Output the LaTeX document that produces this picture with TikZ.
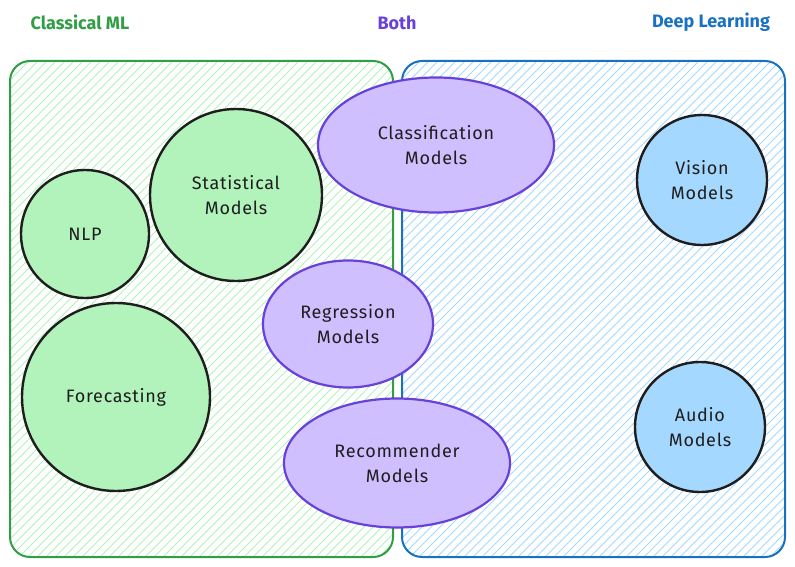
\documentclass[tikz,border=0pt]{standalone}
\usepackage{fontspec}
\setmainfont{Fira Sans}
\newfontfamily\labelfont[LetterSpace=4]{Fira Sans}
\usetikzlibrary{shapes.geometric}
\definecolor{mlgreen}{HTML}{2F9E44}
\definecolor{mlgreenfill}{HTML}{B2F2BB}
\definecolor{dlblue}{HTML}{1971C2}
\definecolor{dlbluefill}{HTML}{A5D8FF}
\definecolor{bothpurple}{HTML}{6741D9}
\definecolor{bothfill}{HTML}{D0BFFF}
\definecolor{inkc}{HTML}{1E1E1E}
\tikzset{
  heading/.style={font=\bfseries\fontsize{18}{20}\selectfont, anchor=center},
  labeltext/.style={font=\labelfont\fontsize{18}{25}\selectfont, text=inkc, align=center},
  mlcircle/.style={circle, draw=inkc, line width=2.4pt, fill=mlgreenfill, labeltext, inner sep=0pt},
  dlcircle/.style={circle, draw=inkc, line width=2.4pt, fill=dlbluefill, labeltext, inner sep=0pt},
  bothellipse/.style={ellipse, draw=bothpurple, line width=2.2pt, fill=bothfill, labeltext, inner sep=0pt},
  region/.style={rounded corners=20pt, line width=2pt},
}
\begin{document}
\begin{tikzpicture}[x=1pt,y=-1pt]
\useasboundingbox (0,0) rectangle (795,567);

% headings
\node[heading, text=mlgreen] (hml) at (80,22) {Classical ML};
\node[heading, text=bothpurple] (hboth) at (397,23) {Both};
\node[heading, text=dlblue] (hdl) at (711,22) {Deep Learning};

% hatched region: classical ML
\begin{scope}
  \clip[rounded corners=20pt] (10,61) rectangle (393,557);
  \foreach \k in {-600,-591,...,400}
    \draw[mlgreenfill, line width=1pt] (\k,600) -- ++(620,-620);
\end{scope}
\draw[region, draw=mlgreen] (10,61) rectangle (393,557);

% hatched region: deep learning
\begin{scope}
  \clip[rounded corners=20pt] (402,61) rectangle (785,557);
  \foreach \k in {-200,-191,...,800}
    \draw[dlbluefill, line width=1pt] (\k,600) -- ++(620,-620);
\end{scope}
\draw[region, draw=dlblue] (402,61) rectangle (785,557);

% classical ML topics
\node[mlcircle, minimum size=128pt] (nlp) at (85,234) {NLP};
\node[mlcircle, minimum size=172pt] (stat) at (236,195) {Statistical\\Models};
\node[mlcircle, minimum size=188pt] (fore) at (116,397) {Forecasting};

% shared topics
\node[bothellipse, minimum width=236pt, minimum height=135pt] (cls) at (436,145) {Classification\\Models};
\node[bothellipse, minimum width=170pt, minimum height=127pt] (reg) at (348,324) {Regression\\Models};
\node[bothellipse, minimum width=226pt, minimum height=129pt] (rec) at (397,463) {Recommender\\Models};

% deep learning topics
\node[dlcircle, minimum size=130pt] (vis) at (702,180) {Vision\\Models};
\node[dlcircle, minimum size=130pt] (aud) at (700,427) {Audio\\Models};
\end{tikzpicture}
\end{document}
